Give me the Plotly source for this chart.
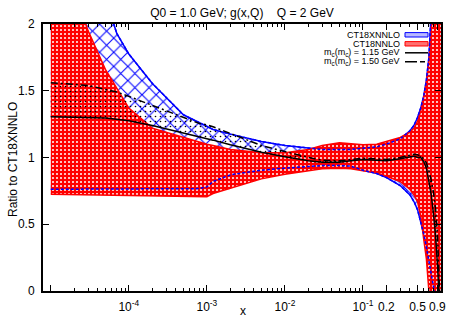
import plotly.graph_objects as go

# ---------------- data ----------------
X = [1e-5, 2e-5, 3e-5, 5e-5, 7e-5, 1e-4, 2e-4, 5e-4, 8e-4, 1e-3, 1.2e-3, 2e-3,
     5e-3, 1e-2, 2e-2, 3e-2, 5e-2, 7e-2, 0.1, 0.15, 0.2, 0.3, 0.4, 0.45, 0.5,
     0.55, 0.6, 0.65, 0.7, 0.75, 0.8, 0.85, 0.9, 0.95, 1.0]

# CT18XNNLO uncertainty band (ratio to CT18XNNLO)
CT18X_LO = [0.762, 0.762, 0.762, 0.762, 0.762, 0.762, 0.763, 0.765, 0.767, 0.78,
            0.82, 0.87, 0.905, 0.92, 0.935, 0.94, 0.94, 0.935, 0.905, 0.88, 0.85,
            0.79, 0.72, 0.67, 0.61, 0.52, 0.43, 0.33, 0.23, 0.15, 0.06, -0.05,
            -0.3, -0.5, -0.5]
CT18X_HI = [3.5, 3.0, 2.6, 2.2, 1.93, 1.775, 1.555, 1.32, 1.26, 1.23, 1.21, 1.175,
            1.12, 1.09, 1.07, 1.06, 1.06, 1.06, 1.07, 1.08, 1.10, 1.14, 1.2, 1.24,
            1.30, 1.37, 1.46, 1.58, 1.75, 2.0, 2.4, 3.0, 3.0, 3.0, 3.0]

# CT18NNLO uncertainty band
CT18_LO = [0.725, 0.722, 0.72, 0.718, 0.716, 0.714, 0.71, 0.707, 0.705, 0.706,
           0.73, 0.77, 0.84, 0.875, 0.90, 0.915, 0.92, 0.915, 0.90, 0.885, 0.86,
           0.82, 0.76, 0.72, 0.67, 0.56, 0.39, 0.24, 0.0, -0.3, -0.5, -0.5,
           -0.5, -0.5, -0.5]
CT18_HI = [2.9, 2.25, 1.95, 1.66, 1.52, 1.37, 1.22, 1.15, 1.115, 1.10, 1.09, 1.06,
           1.035, 1.035, 1.06, 1.09, 1.11, 1.105, 1.095, 1.10, 1.12, 1.15, 1.19,
           1.22, 1.27, 1.35, 1.45, 1.56, 1.72, 1.95, 2.4, 3.0, 3.0, 3.0, 3.0]

# charm-mass variations
MC115 = [1.305, 1.303, 1.30, 1.295, 1.287, 1.275, 1.24, 1.185, 1.155, 1.14, 1.13,
         1.095, 1.04, 1.005, 0.975, 0.965, 0.965, 0.975, 0.985, 0.98, 0.975, 0.99,
         1.005, 1.01, 1.0, 1.0, 0.97, 0.92, 0.82, 0.72, 0.58, 0.42, 0.2, -0.1, -0.3]
MC150 = [1.56, 1.55, 1.54, 1.51, 1.49, 1.458, 1.39, 1.30, 1.255, 1.245, 1.23,
         1.18, 1.09, 1.045, 1.0, 0.98, 0.975, 0.985, 0.995, 0.99, 0.985, 1.0,
         1.02, 1.025, 1.02, 1.01, 0.99, 0.96, 0.9, 0.83, 0.74, 0.62, 0.43, 0.12, -0.3]

TITLE = "Q0 = 1.0 GeV; g(x,Q)\u00a0\u00a0\u00a0\u00a0Q = 2 GeV"
X_TITLE = "x"
Y_TITLE = "Ratio to CT18XNNLO"
XTICK_VALS = [1e-5, 1e-4, 1e-3, 1e-2, 1e-1, 0.2, 0.5, 0.9]
XTICK_TEXT = ["", "10<sup>-4</sup>", "10<sup>-3</sup>", "10<sup>-2</sup>",
              "10<sup>-1</sup>", "0.2", "0.5", "0.9"]
YTICK_VALS = [0, 0.5, 1, 1.5, 2]
YTICK_TEXT = ["0", "0.5", "1", "1.5", "2"]
LEGEND_LABELS = ["CT18XNNLO", "CT18NNLO",
                 "m<sub>c</sub>(m<sub>c</sub>) = 1.15 GeV",
                 "m<sub>c</sub>(m<sub>c</sub>) = 1.50 GeV"]

# ---------------- styling / layout constants ----------------
FONT = "Liberation Sans, Arial, Helvetica, sans-serif"
W, H = 457, 320
ML, MR, MT, MB = 43, 16, 24, 29
PW, PH = W - ML - MR, H - MT - MB
BLUE, RED, BLACK = "#0000ff", "#ff0000", "#000000"
DASHDOT = "7px,3px,2px,3px"
NOFILL = "rgba(0,0,0,0)"

MINOR = [m * 10.0 ** e for e in range(-5, 0) for m in range(2, 10)
         if m * 10.0 ** e not in (0.2, 0.5, 0.9)]

fig = go.Figure()

# CT18XNNLO band (blue cross-hatch), solid edges
fig.add_trace(go.Scatter(x=X, y=CT18X_LO, mode="lines",
                         line=dict(color=BLUE, width=1.5), showlegend=False,
                         hoverinfo="skip"))
fig.add_trace(go.Scatter(x=X, y=CT18X_HI, mode="lines", fill="tonexty",
                         fillcolor=NOFILL,
                         fillpattern=dict(shape="x", fgcolor=BLUE, bgcolor=NOFILL,
                                          fgopacity=1, size=10, solidity=0.2),
                         line=dict(color=BLUE, width=1.5), showlegend=False,
                         name=LEGEND_LABELS[0]))

# CT18NNLO band (red with small white dots)
fig.add_trace(go.Scatter(x=X, y=CT18_LO, mode="lines",
                         line=dict(color=RED, width=1.5), showlegend=False,
                         hoverinfo="skip"))
fig.add_trace(go.Scatter(x=X, y=CT18_HI, mode="lines", fill="tonexty",
                         fillcolor=RED,
                         fillpattern=dict(shape=".", fgcolor="white", bgcolor=RED,
                                          fgopacity=1, size=4, solidity=0.2),
                         line=dict(color=RED, width=1.5), showlegend=False,
                         name=LEGEND_LABELS[1]))

# blue edges seen through the red pattern (dotted overlay)
for yy in (CT18X_LO, CT18X_HI):
    fig.add_trace(go.Scatter(x=X, y=yy, mode="lines",
                             line=dict(color=BLUE, width=1.5, dash="3px,2px"),
                             showlegend=False, hoverinfo="skip"))

# charm-mass variation lines with a sparse black pattern between them
fig.add_trace(go.Scatter(x=X, y=MC115, mode="lines",
                         line=dict(color=BLACK, width=1.5), showlegend=False,
                         name=LEGEND_LABELS[2]))
fig.add_trace(go.Scatter(x=X, y=MC150, mode="lines", fill="tonexty",
                         fillcolor=NOFILL,
                         fillpattern=dict(shape=".", fgcolor=BLACK, bgcolor=NOFILL,
                                          fgopacity=1, size=5, solidity=0.08),
                         line=dict(color=BLACK, width=1.5, dash=DASHDOT),
                         showlegend=False, name=LEGEND_LABELS[3]))

axis_common = dict(showline=True, linecolor=BLACK, linewidth=2, mirror="ticks",
                   ticks="inside", ticklen=6, tickwidth=1, tickcolor=BLACK,
                   showgrid=False, zeroline=False, automargin=False,
                   tickfont=dict(family=FONT, size=12, color=BLACK))

fig.update_xaxes(type="log", range=[-5.1, 0.0], tickmode="array",
                 tickvals=XTICK_VALS, ticktext=XTICK_TEXT,
                 minor=dict(tickvals=MINOR, ticks="inside", ticklen=3,
                            tickwidth=1, tickcolor=BLACK, showgrid=False),
                 ticklabelstandoff=4, **axis_common)
fig.update_yaxes(range=[0, 2], tickmode="array", tickvals=YTICK_VALS,
                 ticktext=YTICK_TEXT, ticklabelstandoff=4, **axis_common)

# legend drawn by hand (text right-aligned, sample on the right, as in gnuplot)
def py2paper(py):
    return (H - MB - py) / PH

def px2paper(px):
    return (px - ML) / PW

LEG_TEXT_X = 401.5
LEG_SAMPLE = (405.0, 428.0)
LEG_ROWS = [34.8, 43.8, 52.8, 61.8]

annotations = []
shapes = []
for lab, row in zip(LEGEND_LABELS, LEG_ROWS):
    annotations.append(dict(text=lab, xref="paper", yref="paper",
                            x=px2paper(LEG_TEXT_X), y=py2paper(row),
                            xanchor="right", yanchor="middle", showarrow=False,
                            font=dict(family=FONT, size=9, color=BLACK)))
x0, x1 = px2paper(LEG_SAMPLE[0]), px2paper(LEG_SAMPLE[1])
shapes.append(dict(type="rect", xref="paper", yref="paper", x0=x0, x1=x1,
                   y0=py2paper(LEG_ROWS[0] + 2.2), y1=py2paper(LEG_ROWS[0] - 2.2),
                   line=dict(color=BLUE, width=1), fillcolor="#b8b8ff"))
shapes.append(dict(type="rect", xref="paper", yref="paper", x0=x0, x1=x1,
                   y0=py2paper(LEG_ROWS[1] + 2.2), y1=py2paper(LEG_ROWS[1] - 2.2),
                   line=dict(color=RED, width=1), fillcolor="#ff7070"))
shapes.append(dict(type="line", xref="paper", yref="paper", x0=x0, x1=x1,
                   y0=py2paper(LEG_ROWS[2]), y1=py2paper(LEG_ROWS[2]),
                   line=dict(color=BLACK, width=1.5)))
shapes.append(dict(type="line", xref="paper", yref="paper", x0=x0, x1=x1,
                   y0=py2paper(LEG_ROWS[3]), y1=py2paper(LEG_ROWS[3]),
                   line=dict(color=BLACK, width=1.5, dash="12px,3px,5px,3px")))

# axis titles
annotations.append(dict(text=X_TITLE, xref="paper", yref="paper",
                        x=px2paper(243), y=py2paper(311), xanchor="center",
                        yanchor="middle", showarrow=False,
                        font=dict(family=FONT, size=12, color=BLACK)))
annotations.append(dict(text=Y_TITLE, xref="paper", yref="paper",
                        x=px2paper(13), y=py2paper(160), xanchor="center",
                        yanchor="middle", showarrow=False, textangle=-90,
                        font=dict(family=FONT, size=12, color=BLACK)))

fig.update_layout(
    template="none",
    width=W, height=H,
    margin=dict(l=ML, r=MR, t=MT, b=MB, pad=0, autoexpand=False),
    paper_bgcolor="white", plot_bgcolor="white",
    font=dict(family=FONT, size=12, color=BLACK),
    showlegend=False, hovermode=False,
    title=dict(text=TITLE, x=0.5, xref="paper", xanchor="center",
               y=1 - 13 / H, yref="container", yanchor="middle",
               font=dict(family=FONT, size=12, color=BLACK)),
    annotations=annotations, shapes=shapes,
)

# remove the browser's default page margin so the 457x320 figure fills the window
PAGE_FIX = ("document.documentElement.style.margin='0';"
            "document.body.style.margin='0';document.body.style.padding='0';"
            "document.body.style.overflow='hidden';")
fig.write_html("out.html", post_script=PAGE_FIX,
               config={"displayModeBar": False, "staticPlot": True})
